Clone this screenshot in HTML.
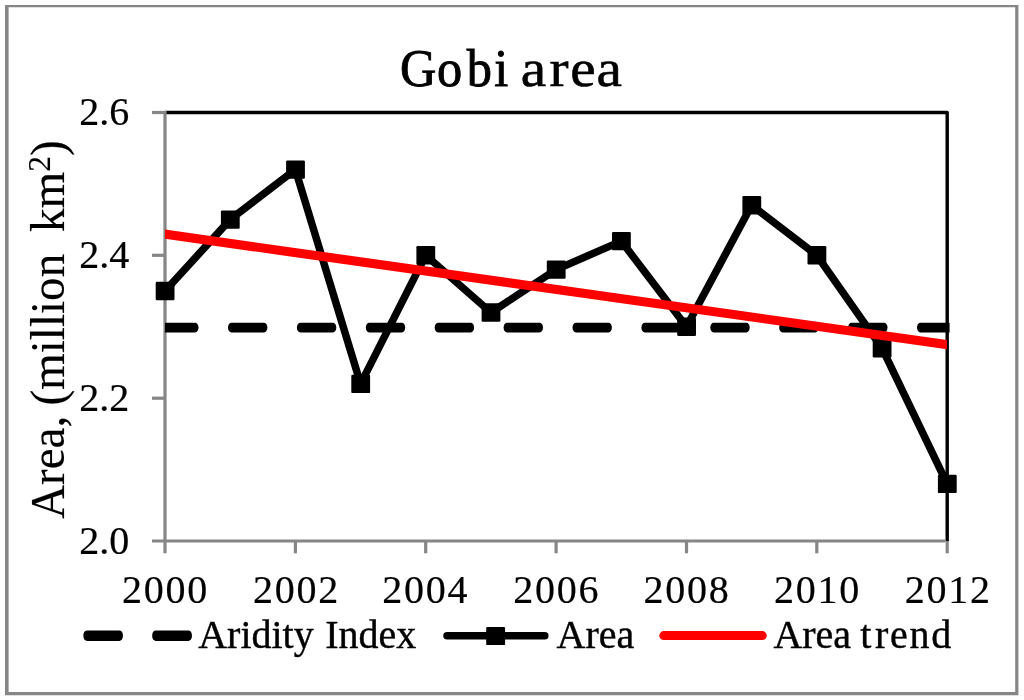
<!DOCTYPE html>
<html lang="en"><head><meta charset="utf-8"><title>Gobi area</title>
<style>html,body{margin:0;padding:0;background:#fff;}svg{display:block;}text{font-family:"Liberation Serif",serif;fill:#000;}</style></head><body>
<svg width="1024" height="700" viewBox="0 0 1024 700">
<rect x="0" y="0" width="1024" height="700" fill="#fff"/>
<path fill="#868686" fill-rule="evenodd" d="M5 5H1018.4V695.3H5Z M8.6 7.2V692H1015.2V7.2Z"/>
<path d="M165.0 112.5 H947.2 V541.0" fill="none" stroke="#000" stroke-width="3.4" stroke-linejoin="round"/>
<g stroke="#868686" stroke-width="3.2" fill="none">
<path d="M165.0 110.9 V553.3"/>
<path d="M152 541.0 H945.5"/>
<path d="M152 398.2 H165.0"/>
<path d="M152 255.3 H165.0"/>
<path d="M152 112.5 H165.0"/>
<path d="M295.4 541.0 V553.3"/>
<path d="M425.7 541.0 V553.3"/>
<path d="M556.1 541.0 V553.3"/>
<path d="M686.5 541.0 V553.3"/>
<path d="M816.8 541.0 V553.3"/>
<path d="M947.2 541.0 V553.3"/>
</g>
<clipPath id="c"><rect x="165" y="100" width="784.6" height="450"/></clipPath>
<clipPath id="r"><rect x="165" y="100" width="782.1" height="450"/></clipPath>
<g clip-path="url(#c)" fill="#000">
<rect x="159.1" y="322.7" width="39.4" height="9.8" rx="3.4" ry="4.9"/>
<rect x="228.0" y="322.7" width="39.4" height="9.8" rx="3.4" ry="4.9"/>
<rect x="296.9" y="322.7" width="39.4" height="9.8" rx="3.4" ry="4.9"/>
<rect x="365.8" y="322.7" width="39.4" height="9.8" rx="3.4" ry="4.9"/>
<rect x="434.7" y="322.7" width="39.4" height="9.8" rx="3.4" ry="4.9"/>
<rect x="503.6" y="322.7" width="39.4" height="9.8" rx="3.4" ry="4.9"/>
<rect x="572.5" y="322.7" width="39.4" height="9.8" rx="3.4" ry="4.9"/>
<rect x="641.4" y="322.7" width="39.4" height="9.8" rx="3.4" ry="4.9"/>
<rect x="710.3" y="322.7" width="39.4" height="9.8" rx="3.4" ry="4.9"/>
<rect x="779.2" y="322.7" width="39.4" height="9.8" rx="3.4" ry="4.9"/>
<rect x="848.1" y="322.7" width="39.4" height="9.8" rx="3.4" ry="4.9"/>
<rect x="917.0" y="322.7" width="39.4" height="9.8" rx="3.4" ry="4.9"/>
</g>
<path d="M165.0 291.0 L230.2 219.6 L295.4 169.6 L360.6 383.9 L425.7 255.3 L490.9 312.5 L556.1 269.6 L621.3 241.1 L686.5 326.8 L751.6 205.3 L816.8 255.3 L882.0 348.2 L947.2 483.9" fill="none" stroke="#000" stroke-width="7.5" stroke-linejoin="round" stroke-linecap="round"/>
<rect x="155.7" y="281.8" width="18.8" height="18.4" rx="1.2" fill="#000"/>
<rect x="220.9" y="210.4" width="18.8" height="18.4" rx="1.2" fill="#000"/>
<rect x="286.1" y="160.4" width="18.8" height="18.4" rx="1.2" fill="#000"/>
<rect x="351.3" y="374.7" width="18.8" height="18.4" rx="1.2" fill="#000"/>
<rect x="416.4" y="246.1" width="18.8" height="18.4" rx="1.2" fill="#000"/>
<rect x="481.6" y="303.3" width="18.8" height="18.4" rx="1.2" fill="#000"/>
<rect x="546.8" y="260.4" width="18.8" height="18.4" rx="1.2" fill="#000"/>
<rect x="612.0" y="231.9" width="18.8" height="18.4" rx="1.2" fill="#000"/>
<rect x="677.2" y="317.6" width="18.8" height="18.4" rx="1.2" fill="#000"/>
<rect x="742.4" y="196.1" width="18.8" height="18.4" rx="1.2" fill="#000"/>
<rect x="807.5" y="246.1" width="18.8" height="18.4" rx="1.2" fill="#000"/>
<rect x="872.7" y="339.0" width="18.8" height="18.4" rx="1.2" fill="#000"/>
<rect x="937.9" y="474.7" width="18.8" height="18.4" rx="1.2" fill="#000"/>
<path clip-path="url(#r)" d="M155.0 232.79 L957.2 346.04" fill="none" stroke="#f00" stroke-width="9.1"/>
<text transform="translate(79.30 553.90) scale(1.0000 1)" font-size="40" stroke="#000" stroke-width="0.2">2.0</text>
<text transform="translate(79.30 411.07) scale(1.0000 1)" font-size="40" stroke="#000" stroke-width="0.2">2.2</text>
<text transform="translate(79.30 268.23) scale(1.0000 1)" font-size="40" stroke="#000" stroke-width="0.2">2.4</text>
<text transform="translate(79.30 125.40) scale(1.0000 1)" font-size="40" stroke="#000" stroke-width="0.2">2.6</text>
<text transform="translate(122.10 603.20) scale(1.0000 1)" font-size="40" letter-spacing="1.75" stroke="#000" stroke-width="0.2">2000</text>
<text transform="translate(252.97 603.20) scale(1.0000 1)" font-size="40" letter-spacing="1.75" stroke="#000" stroke-width="0.2">2002</text>
<text transform="translate(382.33 603.20) scale(1.0000 1)" font-size="40" letter-spacing="1.75" stroke="#000" stroke-width="0.2">2004</text>
<text transform="translate(513.20 603.20) scale(1.0000 1)" font-size="40" letter-spacing="1.75" stroke="#000" stroke-width="0.2">2006</text>
<text transform="translate(643.57 603.20) scale(1.0000 1)" font-size="40" letter-spacing="1.75" stroke="#000" stroke-width="0.2">2008</text>
<text transform="translate(773.93 603.20) scale(1.0000 1)" font-size="40" letter-spacing="1.75" stroke="#000" stroke-width="0.2">2010</text>
<text transform="translate(904.80 603.20) scale(1.0000 1)" font-size="40" letter-spacing="1.75" stroke="#000" stroke-width="0.2">2012</text>
<text transform="translate(0 86.2) scale(0.95 1)" x="421.08 459.95 491.26 520.39" font-size="53" stroke="#000" stroke-width="0.9">Gobi</text>
<text transform="translate(0 86.2) scale(1.08 1)" x="482.22 508.78 528.05 552.22" font-size="53" stroke="#000" stroke-width="0.6">area</text>
<text y="648.3" font-size="40" stroke="#000" stroke-width="0.4"><tspan x="198.2">Aridity</tspan> <tspan x="325.2">Index</tspan></text>
<text y="648.3" font-size="40" stroke="#000" stroke-width="0.4"><tspan x="556.6">Area</tspan></text>
<text y="648.3" font-size="40" stroke="#000" stroke-width="0.4"><tspan x="773.4">Area</tspan> <tspan x="860.3 874.9 890.1 909.6 931.2">trend</tspan></text>
<text transform="translate(64 519) rotate(-90) scale(0.982 1)" font-size="48" stroke="#000" stroke-width="0.15"><tspan x="0">Area,</tspan> <tspan x="115.5">(million</tspan> <tspan x="292.3">km</tspan><tspan font-size="32" dy="-14" stroke-width="0.1">2</tspan><tspan dy="14">)</tspan></text>
<rect x="83.4" y="630.4" width="39.5" height="10.5" rx="3.6" ry="4.6" fill="#000"/>
<rect x="152.2" y="630.4" width="39.7" height="10.5" rx="3.6" ry="4.6" fill="#000"/>
<path d="M447 635.8 H544.8" fill="none" stroke="#000" stroke-width="7.5" stroke-linecap="round"/>
<rect x="486.2" y="626.9" width="18.9" height="18.2" rx="1.2" fill="#000"/>
<path d="M663.8 635.6 H762.3" fill="none" stroke="#f00" stroke-width="9" stroke-linecap="round"/>
</svg></body></html>
